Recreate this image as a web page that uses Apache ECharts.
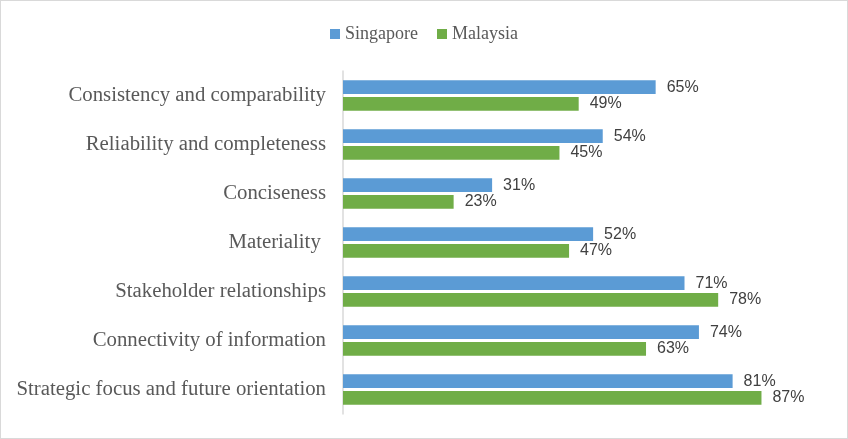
<!DOCTYPE html>
<html><head><meta charset="utf-8">
<script src="https://cdn.jsdelivr.net/npm/echarts@6/dist/echarts.min.js"></script>
<style>html,body{margin:0;padding:0;background:#fff}#c{width:848px;height:439px;box-sizing:border-box;border:1px solid #d9d9d9}</style>
</head><body><div id="c"></div>
<script>
const categories = ["Consistency and comparability","Reliability and completeness","Conciseness","Materiality ","Stakeholder relationships","Connectivity of information","Strategic focus and future orientation"];
const singapore = [65,54,31,52,71,74,81];
const malaysia = [49,45,23,47,78,63,87];
const seriesNames = ["Singapore","Malaysia"];

const chart = echarts.init(document.getElementById('c'));
const lbl = {show:true, position:'right', distance:11, formatter:'{c}%', color:'#404040', fontSize:16, fontFamily:'Liberation Sans, Arial, sans-serif'};
chart.setOption({
  animation:false,
  legend:{top:19, left:'center', itemWidth:10, itemHeight:10, itemGap:19, icon:'rect',
    textStyle:{fontFamily:'Liberation Serif, Times New Roman, serif', fontSize:18, color:'#595959'}, data:seriesNames},
  grid:{left:342, right:23, top:70, bottom:24, containLabel:false},
  xAxis:{type:'value', min:0, max:100, show:false},
  yAxis:{type:'category', data:categories, inverse:true,
    axisLine:{show:true, lineStyle:{color:'#d9d9d9', width:1.5}}, axisTick:{show:false},
    axisLabel:{margin:17, color:'#595959', fontSize:20.8, fontFamily:'Liberation Serif, Times New Roman, serif'}},
  series:[
    {name:seriesNames[0], type:'bar', data:singapore, itemStyle:{color:'#5b9bd5'}, barGap:'22%', barCategoryGap:'38%', label:lbl},
    {name:seriesNames[1], type:'bar', data:malaysia, itemStyle:{color:'#70ad47'}, barGap:'22%', barCategoryGap:'38%', label:lbl}
  ]
});
</script></body></html>
